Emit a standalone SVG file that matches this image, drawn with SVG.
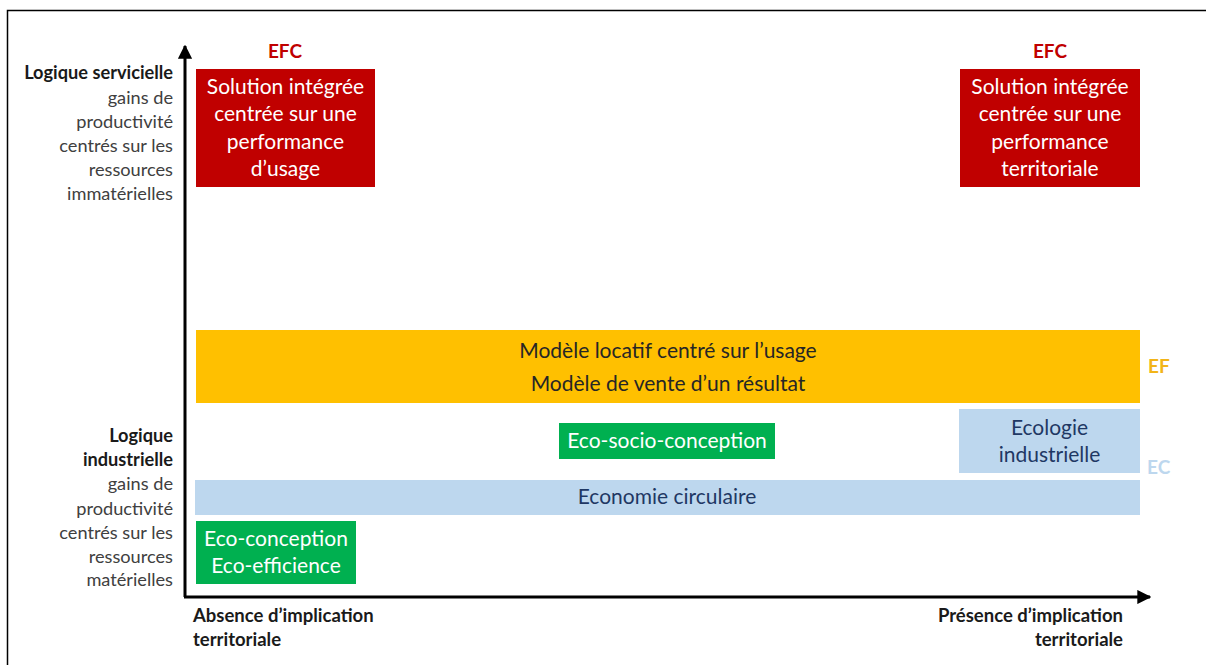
<svg xmlns="http://www.w3.org/2000/svg" width="1206" height="665" viewBox="0 0 1206 665">
  <style>
    text { font-family: Lato, "Open Sans", "Liberation Sans", sans-serif; }
    .side { font-size: 18.2px; fill: #404040; text-anchor: end; }
    .side-b { font-size: 18.2px; fill: #1a1a1a; font-weight: bold; text-anchor: end; }
    .axis-lbl { font-size: 18.5px; fill: #1a1a1a; font-weight: bold; }
    .box-w { font-size: 21px; fill: #ffffff; text-anchor: middle; }
    .box-d { font-size: 21px; fill: #262626; text-anchor: middle; }
    .box-n { font-size: 21px; fill: #1f3864; text-anchor: middle; }
    .tag { font-size: 19px; font-weight: bold; }
    .axis { stroke: #000; stroke-width: 3; fill: none; }
  </style>
  <defs>
    <marker id="arrow" viewBox="0 0 10 10" refX="9" refY="5" markerWidth="4.7" markerHeight="4.7" orient="auto" markerUnits="strokeWidth">
      <path d="M0,0 L10,5 L0,10 z" fill="#000"/>
    </marker>
  </defs>
  <rect width="1206" height="665" fill="#ffffff"/>
  <!-- frame -->
  <path d="M7.5,665 V10.5 H1206" fill="none" stroke="#000" stroke-width="1.5"/>

  <!-- axes -->
  <g id="connectors">
    <path class="axis" d="M185,597 V46" marker-end="url(#arrow)"/>
    <path class="axis" d="M184,597 H1150" marker-end="url(#arrow)"/>
  </g>

  <!-- vertical axis labels -->
  <g id="label-servicielle">
    <text class="side-b" x="173" y="79">Logique servicielle</text>
    <text class="side" x="173" y="104">gains de</text>
    <text class="side" x="173" y="128">productivité</text>
    <text class="side" x="173" y="152">centrés sur les</text>
    <text class="side" x="173" y="176">ressources</text>
    <text class="side" x="173" y="200">immatérielles</text>
  </g>
  <g id="label-industrielle">
    <text class="side-b" x="173" y="442">Logique</text>
    <text class="side-b" x="173" y="466">industrielle</text>
    <text class="side" x="173" y="490">gains de</text>
    <text class="side" x="173" y="515">productivité</text>
    <text class="side" x="173" y="539">centrés sur les</text>
    <text class="side" x="173" y="563">ressources</text>
    <text class="side" x="173" y="586">matérielles</text>
  </g>

  <!-- horizontal axis labels -->
  <g id="label-absence">
    <text class="axis-lbl" x="193" y="622">Absence d’implication</text>
    <text class="axis-lbl" x="193" y="646">territoriale</text>
  </g>
  <g id="label-presence">
    <text class="axis-lbl" x="1123" y="622" text-anchor="end">Présence d’implication</text>
    <text class="axis-lbl" x="1123" y="646" text-anchor="end">territoriale</text>
  </g>

  <!-- EFC boxes -->
  <g id="efc-usage">
    <text class="tag" x="285" y="58" fill="#c00000" text-anchor="middle">EFC</text>
    <rect x="196" y="69" width="179" height="118" fill="#c00000"/>
    <text class="box-w" x="285.5" y="94">Solution intégrée</text>
    <text class="box-w" x="285.5" y="121">centrée sur une</text>
    <text class="box-w" x="285.5" y="149">performance</text>
    <text class="box-w" x="285.5" y="176">d’usage</text>
  </g>
  <g id="efc-territoriale">
    <text class="tag" x="1050" y="58" fill="#c00000" text-anchor="middle">EFC</text>
    <rect x="960" y="69" width="180" height="118" fill="#c00000"/>
    <text class="box-w" x="1050" y="94">Solution intégrée</text>
    <text class="box-w" x="1050" y="121">centrée sur une</text>
    <text class="box-w" x="1050" y="149">performance</text>
    <text class="box-w" x="1050" y="176">territoriale</text>
  </g>

  <!-- economy of functionality band -->
  <g id="ef-band">
    <rect x="196" y="330" width="944" height="73" fill="#ffc000"/>
    <text class="box-d" x="668" y="358">Modèle locatif centré sur l’usage</text>
    <text class="box-d" x="668" y="391">Modèle de vente d’un résultat</text>
    <text class="tag" x="1148" y="373" fill="#f2b418">EF</text>
  </g>

  <!-- industrial ecology -->
  <g id="ecologie-industrielle">
    <rect x="959" y="409" width="181" height="64" fill="#bdd7ee"/>
    <text class="box-n" x="1049.5" y="435">Ecologie</text>
    <text class="box-n" x="1049.5" y="462">industrielle</text>
    <text class="tag" x="1147" y="474" fill="#bdd7ee">EC</text>
  </g>

  <g id="eco-socio-conception">
    <rect x="559" y="423" width="216" height="36" fill="#00b050"/>
    <text class="box-w" x="667" y="448">Eco-socio-conception</text>
  </g>

  <g id="economie-circulaire">
    <rect x="195" y="480" width="945" height="35" fill="#bdd7ee"/>
    <text class="box-n" x="667" y="504">Economie circulaire</text>
  </g>

  <g id="eco-conception">
    <rect x="196" y="521" width="160" height="63" fill="#00b050"/>
    <text class="box-w" x="276" y="546">Eco-conception</text>
    <text class="box-w" x="276" y="573">Eco-efficience</text>
  </g>
</svg>
